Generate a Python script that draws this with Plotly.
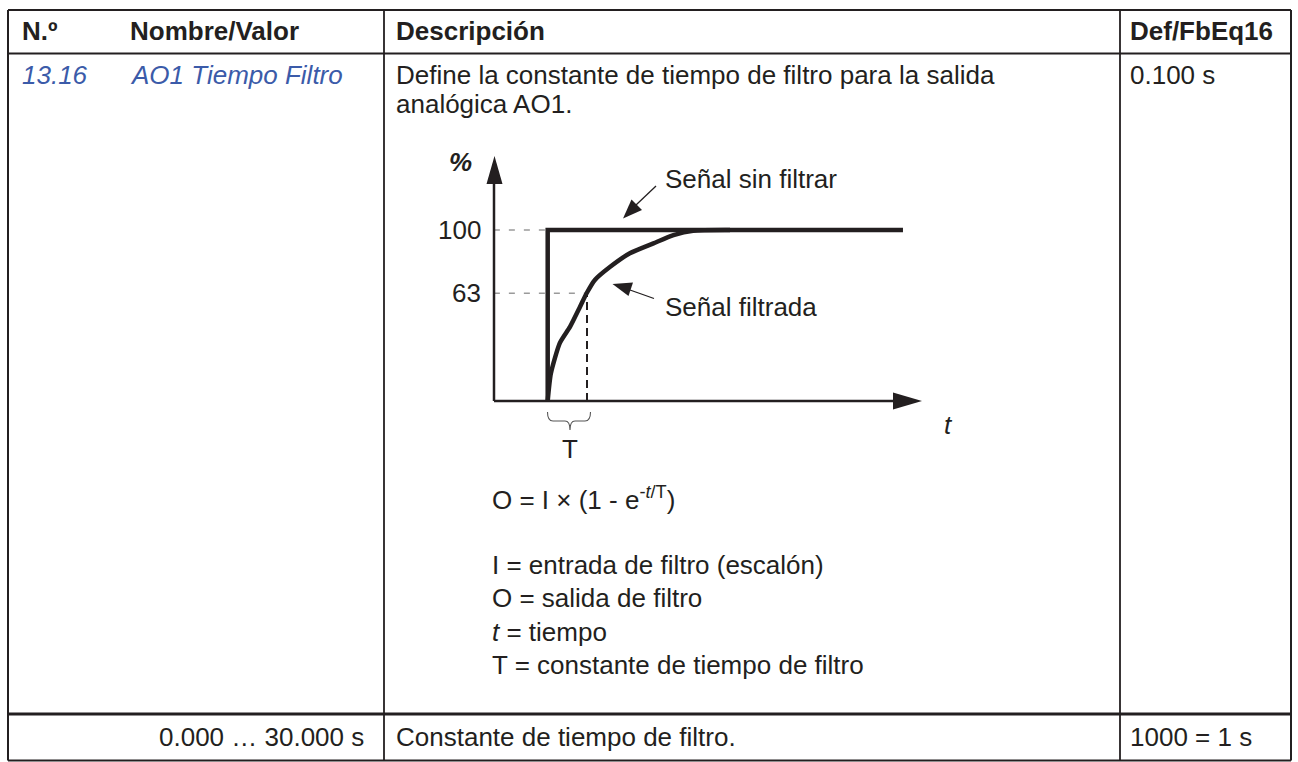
import plotly.graph_objects as go

# ---------------- data ----------------
header_labels = ["N.º", "Nombre/Valor", "Descripción", "Def/FbEq16"]
param_no = "13.16"
param_name = "AO1 Tiempo Filtro"
desc_lines = ["Define la constante de tiempo de filtro para la salida", "analógica AO1."]
default_value = "0.100 s"
range_text = "0.000 … 30.000 s"
range_desc = "Constante de tiempo de filtro."
range_scale = "1000 = 1 s"

# step input (unfiltered signal), t in units of T, value in %
unfiltered_t = [0, 0, 9.04]
unfiltered_pct = [0, 100, 100]
# filtered signal
filtered_t = [0, 0.08, 0.31, 0.57, 0.82, 0.99, 1.2, 1.59, 2.09, 2.69, 3.2, 3.7, 4.64]
filtered_pct = [0, 16, 34, 43.5, 55, 63, 70.8, 78.5, 86.4, 92.2, 97, 99.6, 100]
level_ticks = [100, 63]
level_labels = ["100", "63"]
time_const = 1.0
axis_t_start = -1.37

legend_lines = [
    "I = entrada de filtro (escalón)",
    "O = salida de filtro",
    "<i>t</i> = tiempo",
    "T = constante de tiempo de filtro",
]
formula = "O = I × (1 - e<sup>-<i>t</i>/T</sup>)"

# ---------------- layout helpers ----------------
W, H = 1298, 762
INK = "#231f20"
BLUE = "#3b5ba9"
FONT = "Liberation Sans, Arial, sans-serif"
FS = 26

# pixel <-> data mapping for the diagram
X0_PX, PX_PER_T = 547.7, 39.3
Y0_PX, PX_PER_PCT = 401.0, 1.71
t_range = [-X0_PX / PX_PER_T, (W - X0_PX) / PX_PER_T]
p_range = [(Y0_PX - H) / PX_PER_PCT, Y0_PX / PX_PER_PCT]

fig = go.Figure()

# guide lines (gray dashed) at 100 and 63
for lvl, tend in zip(level_ticks, [0, time_const]):
    fig.add_trace(go.Scatter(x=[axis_t_start, tend], y=[lvl, lvl], mode="lines",
                             line=dict(color="#9a9a9a", width=1.5, dash="6px,9px"),
                             xaxis="x2", yaxis="y2", hoverinfo="skip", showlegend=False))
# black dashed at t = T
fig.add_trace(go.Scatter(x=[time_const, time_const], y=[0, 63], mode="lines",
                         line=dict(color=INK, width=2, dash="8px,5px"),
                         xaxis="x2", yaxis="y2", hoverinfo="skip", showlegend=False))
# unfiltered step
fig.add_trace(go.Scatter(x=unfiltered_t, y=unfiltered_pct, mode="lines",
                         line=dict(color=INK, width=4.5),
                         xaxis="x2", yaxis="y2", hoverinfo="skip", showlegend=False))
# filtered curve
fig.add_trace(go.Scatter(x=filtered_t, y=filtered_pct, mode="lines",
                         line=dict(color=INK, width=4.5, shape="spline", smoothing=0.6),
                         xaxis="x2", yaxis="y2", hoverinfo="skip", showlegend=False))

shapes = []
def hline(x0, x1, y, w):
    shapes.append(dict(type="line", xref="x", yref="y", x0=x0, x1=x1, y0=y, y1=y,
                       line=dict(color=INK, width=w)))
def vline(x, y0, y1, w):
    shapes.append(dict(type="line", xref="x", yref="y", x0=x, x1=x, y0=y0, y1=y1,
                       line=dict(color=INK, width=w)))

L, R, T0, B = 8, 1291, 10, 760.5
hline(L, R, T0, 2.2)
hline(L, R, 53.5, 2.2)
hline(L, R, 714, 3)
hline(L, R, B, 2)
vline(L, T0, B, 2)
vline(R, T0, B, 2)
vline(384, T0, B, 1.8)
vline(1120, T0, B, 1.8)

# diagram axes (pixel coordinates)
ax_x = 494
vline(ax_x, Y0_PX, 180, 2.5)
hline(ax_x, 896, Y0_PX, 2.5)
shapes.append(dict(type="path", xref="x", yref="y",
                   path="M494.5,156 L502.5,184 L486.5,184 Z", fillcolor=INK, line=dict(width=0)))
shapes.append(dict(type="path", xref="x", yref="y",
                   path="M922,401 L893,392.5 L893,409.5 Z", fillcolor=INK, line=dict(width=0)))

# pointer arrows
shapes.append(dict(type="line", xref="x", yref="y", x0=656, y0=186, x1=636, y1=205,
                   line=dict(color=INK, width=1.3)))
shapes.append(dict(type="path", xref="x", yref="y",
                   path="M623,218.5 L631.5,199.5 L642,210 Z", fillcolor=INK, line=dict(width=0)))
shapes.append(dict(type="line", xref="x", yref="y", x0=654, y0=298.5, x1=630, y1=290,
                   line=dict(color=INK, width=1.3)))
shapes.append(dict(type="path", xref="x", yref="y",
                   path="M612.5,284 L633,282.5 L628.5,296 Z", fillcolor=INK, line=dict(width=0)))

# brace under T
shapes.append(dict(type="path", xref="x", yref="y",
                   path="M547.5,412 Q547.5,421 553,421 L565,421 Q570,421 570,430 "
                        "Q570,421 575,421 L585,421 Q590.5,421 590.5,412",
                   line=dict(color="#555555", width=1.1)))

ann = []
def txt(x, y, s, size=FS, color=INK, xanchor="left", bold=False, italic=False):
    if bold:
        s = "<b>" + s + "</b>"
    if italic:
        s = "<i>" + s + "</i>"
    ann.append(dict(x=x, y=y, xref="x", yref="y", text=s, showarrow=False,
                    xanchor=xanchor, yanchor="middle",
                    font=dict(family=FONT, size=size, color=color)))

# header
hx = [20, 128, 394, 1128]
for x, lab in zip(hx, header_labels):
    txt(x, 31, lab, bold=True)
# row 1
txt(20, 75, param_no, color=BLUE, italic=True)
txt(128, 75, param_name, color=BLUE, italic=True)
txt(394, 75, desc_lines[0])
txt(394, 104, desc_lines[1])
txt(1128, 75, default_value)
# last row
txt(366, 737, range_text, xanchor="right")
txt(394, 737, range_desc)
txt(1128, 737, range_scale)

# diagram labels
txt(474, 162, "%", bold=True, italic=True, xanchor="right")
for lvl, lab in zip(level_ticks, level_labels):
    txt(483, Y0_PX - lvl * PX_PER_PCT, lab, xanchor="right")
txt(570, 449, "T", xanchor="center")
txt(948, 425, "t", italic=True, xanchor="center")
txt(663, 179, "Señal sin filtrar")
txt(663, 307, "Señal filtrada")

# formula and legend
txt(490, 498, formula)
for i, line in enumerate(legend_lines):
    txt(490, 565 + i * 33.3, line)

fig.update_layout(
    width=W, height=H, margin=dict(l=0, r=0, t=0, b=0),
    paper_bgcolor="white", plot_bgcolor="white",
    showlegend=False,
    xaxis=dict(range=[0, W], visible=False, fixedrange=True),
    yaxis=dict(range=[H, 0], visible=False, fixedrange=True),
    xaxis2=dict(range=t_range, visible=False, overlaying="x", anchor="y2", fixedrange=True),
    yaxis2=dict(range=p_range, visible=False, overlaying="y", anchor="x2", fixedrange=True),
    shapes=shapes, annotations=ann,
)

fig.write_html("out.html", config={"displayModeBar": False},
               post_script="document.body.style.margin='0';document.body.style.overflow='hidden';")
